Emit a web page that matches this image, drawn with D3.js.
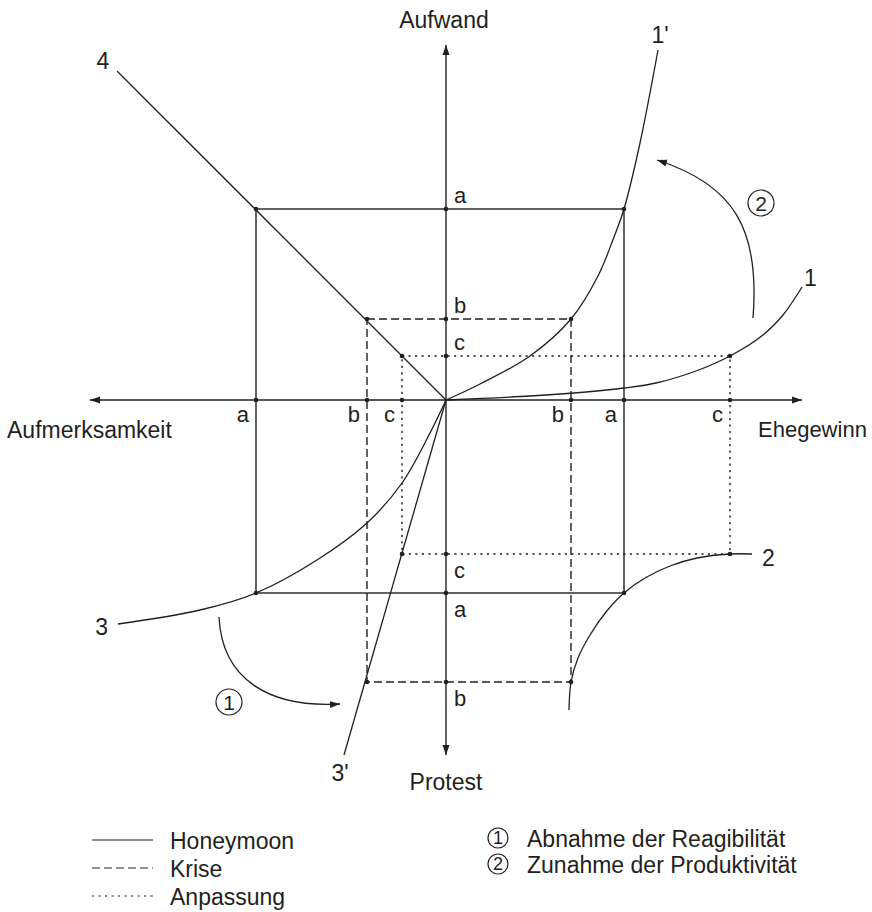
<!DOCTYPE html>
<html>
<head>
<meta charset="utf-8">
<script src="https://cdn.jsdelivr.net/npm/d3@7"></script>
<style>
  html, body { margin: 0; padding: 0; background: #fff; }
  svg { display: block; }
  text { font-family: "Liberation Sans", Arial, Helvetica, sans-serif; fill: #231f20; }
</style>
</head>
<body>
<script>
// ---------------- data ----------------
const tickNames = ["a", "b", "c"];                 // Honeymoon, Krise, Anpassung
const regimes = ["Honeymoon", "Krise", "Anpassung"];
const ehegewinnTicks = [178, 125, 284];            // +x
const aufmerksamkeitTicks = [-190, -79, -44];      // -x
const aufwandTicks = [191, 81, 44];                // +y
const protestTicks = [-193, -282, -154];           // -y

const axisTitles = ["Aufwand", "Protest", "Aufmerksamkeit", "Ehegewinn"];

const curve1p = [[0,0],[34,16],[84,44],[125,81],[152,124],[168,163],[178,191],[194,257],[212,350]];
const curve1  = [[0,0],[84,4],[140,8],[178,12],[210,17],[250,29],[284,44],[317,65],[337,85],[356,113]];
const curve2  = [[123,-310],[125,-282],[132,-258],[144,-235],[160,-212],[178,-193],[199,-178],[224,-166],[251,-158],[284,-154],[306,-154]];
const curve3  = [[-328,-224],[-246,-210],[-190,-193],[-129,-160],[-79,-123],[-44,-83],[-16,-33],[0,0]];
const line3p  = [[0,0],[-102,-355]];
const line4   = [[0,0],[-329,329]];

const legendItems = ["Honeymoon", "Krise", "Anpassung"];
const noteItems = ["Abnahme der Reagibilität", "Zunahme der Produktivität"];

// ---------------- drawing ----------------
const W = 872, H = 912;
const ink = "#231f20";
const sw = 1.4;
const dashes = [null, "8,4", "2.2,4.3"];

const svg = d3.select("body").append("svg").attr("width", W).attr("height", H);

const x = d3.scaleLinear().domain([-356, 356]).range([90, 802]);
const y = d3.scaleLinear().domain([-355, 355]).range([755, 45]);

const defs = svg.append("defs");
defs.append("marker").attr("id", "ah")
  .attr("viewBox", "0 -4 10 8").attr("refX", 10).attr("refY", 0)
  .attr("markerWidth", 10).attr("markerHeight", 8)
  .attr("markerUnits", "userSpaceOnUse").attr("orient", "auto")
  .append("path").attr("d", "M0,-3.5L10,0L0,3.5Z").attr("fill", ink);

// axes
[[-356, 0], [356, 0], [0, 355], [0, -355]].forEach(e => {
  svg.append("line").attr("x1", x(0)).attr("y1", y(0)).attr("x2", x(e[0])).attr("y2", y(e[1]))
    .attr("stroke", ink).attr("stroke-width", sw).attr("marker-end", "url(#ah)");
});

// rectangles (one per regime)
const rects = svg.append("g");
tickNames.forEach((n, i) => {
  const l = x(aufmerksamkeitTicks[i]), r = x(ehegewinnTicks[i]);
  const t = y(aufwandTicks[i]), b = y(protestTicks[i]);
  rects.append("rect").attr("x", l).attr("y", t).attr("width", r - l).attr("height", b - t)
    .attr("fill", "none").attr("stroke", ink).attr("stroke-width", sw)
    .attr("stroke-dasharray", dashes[i]);
});

// curves
const lineGen = d3.line().x(d => x(d[0])).y(d => y(d[1])).curve(d3.curveCatmullRom.alpha(0.5));
const straight = d3.line().x(d => x(d[0])).y(d => y(d[1]));
[curve1p, curve1, curve2, curve3].forEach(c => {
  svg.append("path").attr("d", lineGen(c)).attr("fill", "none").attr("stroke", ink).attr("stroke-width", 1.3);
});
[line3p, line4].forEach(c => {
  svg.append("path").attr("d", straight(c)).attr("fill", "none").attr("stroke", ink).attr("stroke-width", 1.3);
});

// dots
const dots = [];
tickNames.forEach((n, i) => {
  dots.push([ehegewinnTicks[i], 0], [aufmerksamkeitTicks[i], 0], [0, aufwandTicks[i]], [0, protestTicks[i]]);
  dots.push([aufmerksamkeitTicks[i], aufwandTicks[i]], [ehegewinnTicks[i], aufwandTicks[i]],
            [aufmerksamkeitTicks[i], protestTicks[i]], [ehegewinnTicks[i], protestTicks[i]]);
});
svg.append("g").selectAll("circle").data(dots).join("circle")
  .attr("cx", d => x(d[0])).attr("cy", d => y(d[1])).attr("r", 2.3).attr("fill", ink);

// tick letters
const fsT = 22;
tickNames.forEach((n, i) => {
  svg.append("text").attr("x", x(ehegewinnTicks[i]) - 7).attr("y", y(0) + 22)
    .attr("text-anchor", "end").attr("font-size", fsT).text(n);
  svg.append("text").attr("x", x(aufmerksamkeitTicks[i]) - 7).attr("y", y(0) + 22)
    .attr("text-anchor", "end").attr("font-size", fsT).text(n);
  svg.append("text").attr("x", x(0) + 8).attr("y", y(aufwandTicks[i]) - 6)
    .attr("font-size", fsT).text(n);
  svg.append("text").attr("x", x(0) + 8).attr("y", y(protestTicks[i]) + 24)
    .attr("font-size", fsT).text(n);
});

// axis titles
const fsA = 23;
svg.append("text").attr("x", x(0) - 2).attr("y", 28).attr("text-anchor", "middle").attr("font-size", fsA).text(axisTitles[0]);
svg.append("text").attr("x", x(0)).attr("y", 790).attr("text-anchor", "middle").attr("font-size", fsA).text(axisTitles[1]);
svg.append("text").attr("x", 7).attr("y", 438).attr("font-size", fsA).text(axisTitles[2]);
svg.append("text").attr("x", 758).attr("y", 437).attr("font-size", 22).text(axisTitles[3]);

// curve labels
function endOf(c) { return c[c.length - 1]; }
const e1p = endOf(curve1p), e1 = endOf(curve1), s2 = endOf(curve2), e3 = curve3[0], e3p = endOf(line3p), e4 = endOf(line4);
svg.append("text").attr("x", x(e1p[0]) + 2).attr("y", y(e1p[1]) - 7).attr("text-anchor", "middle").attr("font-size", fsA).text("1'");
svg.append("text").attr("x", x(e1[0]) + 2).attr("y", y(e1[1]) - 1).attr("font-size", fsA).text("1");
svg.append("text").attr("x", x(s2[0]) + 10).attr("y", y(s2[1]) + 12).attr("font-size", fsA).text("2");
svg.append("text").attr("x", x(e3[0]) - 10).attr("y", y(e3[1]) + 11).attr("text-anchor", "end").attr("font-size", fsA).text("3");
svg.append("text").attr("x", x(e3p[0]) - 4).attr("y", y(e3p[1]) + 26).attr("text-anchor", "middle").attr("font-size", fsA).text("3'");
svg.append("text").attr("x", x(e4[0]) - 14).attr("y", y(e4[1]) - 2).attr("text-anchor", "middle").attr("font-size", fsA).text("4");

// rotation arrows
const p2 = d3.path();
p2.moveTo(753, 318); p2.bezierCurveTo(760, 230, 735, 185, 657, 160);
svg.append("path").attr("d", p2.toString()).attr("fill", "none").attr("stroke", ink).attr("stroke-width", 1.3).attr("marker-end", "url(#ah)");
const p1 = d3.path();
p1.moveTo(219, 617); p1.bezierCurveTo(222, 680, 270, 708, 340, 704);
svg.append("path").attr("d", p1.toString()).attr("fill", "none").attr("stroke", ink).attr("stroke-width", 1.3).attr("marker-end", "url(#ah)");

function circled(cx, cy, r, num, fs) {
  svg.append("circle").attr("cx", cx).attr("cy", cy).attr("r", r).attr("fill", "none").attr("stroke", ink).attr("stroke-width", 1.2);
  svg.append("text").attr("x", cx).attr("y", cy + fs * 0.36).attr("text-anchor", "middle").attr("font-size", fs).text(num);
}
circled(229, 702, 13, "1", 21);
circled(761, 203, 13, "2", 21);

// legend
legendItems.forEach((t, i) => {
  const by = 849 + i * 28;
  svg.append("line").attr("x1", 92).attr("x2", 153).attr("y1", by - 9).attr("y2", by - 9)
    .attr("stroke", ink).attr("stroke-width", 1.2).attr("stroke-dasharray", dashes[i]);
  svg.append("text").attr("x", 170).attr("y", by).attr("font-size", fsA).text(t);
});
noteItems.forEach((t, i) => {
  const by = 847 + i * 26;
  circled(498, by - 9, 10, String(i + 1), 18);
  svg.append("text").attr("x", 527).attr("y", by).attr("font-size", fsA).text(t);
});
</script>
</body>
</html>
